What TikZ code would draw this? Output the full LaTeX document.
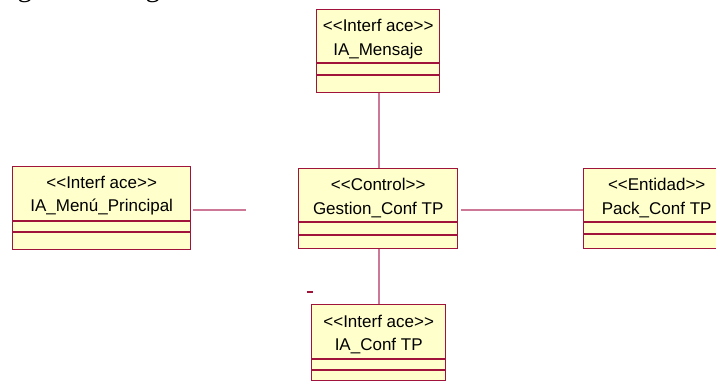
\documentclass[tikz,border=0pt]{standalone}
\usepackage{fontspec}
\setmainfont{Liberation Sans}[Ligatures=TeXOff]
\newfontfamily\introserif{Liberation Serif}
\definecolor{classfill}{RGB}{255,255,204}
\definecolor{classborder}{RGB}{160,20,60}
\definecolor{connline}{RGB}{205,120,150}
\tikzset{
  classbox/.style={draw=classborder, fill=classfill, line width=1.4pt, inner sep=0pt, anchor=north west},
  classtext/.style={anchor=base, inner sep=0pt, font=\fontsize{17}{20}\selectfont},
  sepline/.style={draw=classborder, line width=1.3pt},
  conn/.style={draw=connline, line width=1.4pt},
}
\begin{document}
\begin{tikzpicture}[x=1pt,y=-1pt]
\useasboundingbox (0,0) rectangle (716,381);
\clip (0,0) rectangle (716,381);
\fill[white] (0,0) rectangle (716,381);

% clipped intro text at the very top
\node[anchor=base west, inner sep=0pt, font=\introserif\fontsize{29}{32}\selectfont] (intro) at (-2,-4) {siguiente diagrama:};

% IA_Mensaje
\node[classbox, minimum width=123pt, minimum height=83pt] (mensaje) at (316,9) {};
\node[classtext] (mensajeS) at ([yshift=-22pt]mensaje.north) {<<Interf ace>>};
\node[classtext] (mensajeN) at ([yshift=-46pt]mensaje.north) {IA\_Mensaje};
\draw[sepline] ([yshift=-54pt]mensaje.north west) -- ([yshift=-54pt]mensaje.north east);
\draw[sepline] ([yshift=-66pt]mensaje.north west) -- ([yshift=-66pt]mensaje.north east);

% Gestion_ConfTP
\node[classbox, minimum width=159pt, minimum height=80pt] (gestion) at (298,168) {};
\node[classtext] (gestionS) at ([yshift=-22pt]gestion.north) {<<Control>>};
\node[classtext] (gestionN) at ([yshift=-46pt]gestion.north) {Gestion\_Conf TP};
\draw[sepline] ([yshift=-54pt]gestion.north west) -- ([yshift=-54pt]gestion.north east);
\draw[sepline] ([yshift=-67pt]gestion.north west) -- ([yshift=-67pt]gestion.north east);

% IA_Menu_Principal
\node[classbox, minimum width=178pt, minimum height=83pt] (menu) at (12,166) {};
\node[classtext] (menuS) at ([yshift=-22pt]menu.north) {<<Interf ace>>};
\node[classtext] (menuN) at ([yshift=-45pt]menu.north) {IA\_Menú\_Principal};
\draw[sepline] ([yshift=-55pt]menu.north west) -- ([yshift=-55pt]menu.north east);
\draw[sepline] ([yshift=-66pt]menu.north west) -- ([yshift=-66pt]menu.north east);

% Pack_ConfTP
\node[classbox, minimum width=146pt, minimum height=80pt] (pack) at (583,168) {};
\node[classtext] (packS) at ([yshift=-22pt]pack.north) {<<Entidad>>};
\node[classtext] (packN) at ([yshift=-46pt]pack.north) {Pack\_Conf TP};
\draw[sepline] ([yshift=-54pt]pack.north west) -- ([yshift=-54pt]pack.north east);
\draw[sepline] ([yshift=-66pt]pack.north west) -- ([yshift=-66pt]pack.north east);

% IA_ConfTP
\node[classbox, minimum width=134pt, minimum height=76pt] (conftp) at (311,304) {};
\node[classtext] (conftpS) at ([yshift=-23pt]conftp.north) {<<Interf ace>>};
\node[classtext] (conftpN) at ([yshift=-46pt]conftp.north) {IA\_Conf TP};
\draw[sepline] ([yshift=-55pt]conftp.north west) -- ([yshift=-55pt]conftp.north east);
\draw[sepline] ([yshift=-66pt]conftp.north west) -- ([yshift=-66pt]conftp.north east);

% connectors
\coordinate (vx) at (379,0);
\coordinate (hy) at (0,210);
\coordinate (menuend) at (246,210);
\draw[conn] (mensaje.south -| vx) -- (gestion.north -| vx);
\draw[conn] (gestion.south -| vx) -- (conftp.north -| vx);
\draw[conn] ([xshift=2pt]menu.east |- hy) -- (menuend);
\draw[conn] ([xshift=3pt]gestion.east |- hy) -- (pack.west |- hy);

% stray dash
\coordinate (dashA) at (307,292);
\coordinate (dashB) at (313,292);
\draw[draw=classborder, line width=1.2pt] (dashA) -- (dashB);
\end{tikzpicture}
\end{document}
